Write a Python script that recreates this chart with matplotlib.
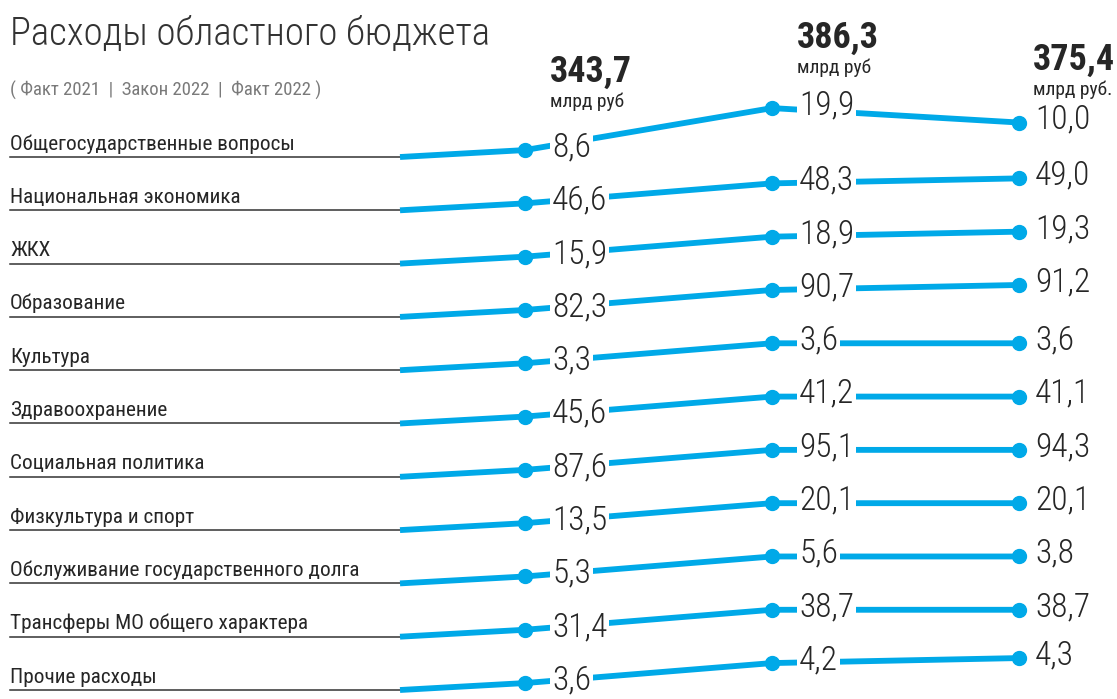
import numpy as np
import matplotlib.pyplot as plt
from matplotlib import font_manager as fm

# data
categories = ['Общегосударственные вопросы', 'Национальная экономика', 'ЖКХ',
              'Образование', 'Культура', 'Здравоохранение', 'Социальная политика',
              'Физкультура и спорт', 'Обслуживание государственного долга',
              'Трансферы МО общего характера', 'Прочие расходы']
fact_2021 = [8.6, 46.6, 15.9, 82.3, 3.3, 45.6, 87.6, 13.5, 5.3, 31.4, 3.6]
law_2022 = [19.9, 48.3, 18.9, 90.7, 3.6, 41.2, 95.1, 20.1, 5.6, 38.7, 4.2]
fact_2022 = [10.0, 49.0, 19.3, 91.2, 3.6, 41.1, 94.3, 20.1, 3.8, 38.7, 4.3]
totals = [343.7, 386.3, 375.4]
units = ['млрд руб', 'млрд руб', 'млрд руб.']


# pick a narrow font if one is installed
def pick_font():
    fl = fm.fontManager.ttflist
    for want in ['Liberation Sans Narrow', 'Roboto Condensed', 'Open Sans Condensed',
                 'Noto Sans Condensed', 'DejaVu Sans Condensed', 'Arial Narrow']:
        if any(f.name == want for f in fl):
            return want, 'normal', True
    for fam in ['Roboto', 'Noto Sans', 'Open Sans', 'DejaVu Sans']:
        if any(f.name == fam and str(f.stretch) in ('condensed', 'semi-condensed',
                                                    'extra-condensed') for f in fl):
            return fam, 'condensed', True
    return 'DejaVu Sans', 'normal', False


family, stretch, narrow = pick_font()
plt.rcParams['font.family'] = [family, 'DejaVu Sans']
plt.rcParams['font.stretch'] = stretch
k = 1.0 if narrow else 0.8   # shrink text when no narrow face exists

# style / layout
blue = '#00a9e8'
dark = '#262626'
header_y = [-1.407, -2.045, -1.632]   # baseline of total, in row units
unit_gap = 0.47
first_lift = 0.13
mid_step = 0.375
end_step = 0.094
emph = 0.94

def fmt(v):
    return f'{v:.1f}'.replace('.', ',')

fig = plt.figure(figsize=(11.17, 6.99), dpi=100)
ax = fig.add_axes([0, 0, 1, 1])
ax.set_xlim(-2.1255, 2.3968)
ax.set_ylim(10.169, -2.9456)
ax.axis('off')

x_text = -2.085
x_start = -0.506
label_dx = [0.11, 0.11, 0.065]

ax.text(x_text, -2.101, 'Расходы областного бюджета', fontsize=28 * k,
        fontweight='light', color='#333333', va='baseline', ha='left')
ax.text(x_text, -1.144, '( Факт 2021  |  Закон 2022  |  Факт 2022 )', fontsize=13.5 * k,
        color='#7a7a7a', va='baseline', ha='left')

for j in range(3):
    ax.text(j + label_dx[j] - 0.01, header_y[j], fmt(totals[j]), fontsize=26 * k,
            fontweight='bold', color=dark, va='baseline', ha='left')
    ax.text(j + label_dx[j] - 0.01, header_y[j] + unit_gap, units[j], fontsize=14 * k,
            color=dark, va='baseline', ha='left')

for i, name in enumerate(categories):
    v0, v1, v2 = fact_2021[i], law_2022[i], fact_2022[i]
    y0 = i - first_lift
    y1 = y0 - mid_step - emph * max(np.log(v1 / v0) - 0.4, 0)
    y2 = y1 - (end_step if v2 > v1 else 0) + emph * max(np.log(v1 / v2) - 0.4, 0)
    ys = [y0, y1, y2]

    ax.plot([x_text, x_start], [i, i], color='#333333', lw=1.1, zorder=1)
    ax.text(x_text, i - 0.14, name, fontsize=15.3 * k, color=dark, va='baseline', ha='left')
    ax.plot([x_start, 0, 1, 2], [i] + ys, color=blue, lw=4.2,
            solid_capstyle='butt', zorder=2)
    ax.plot([0, 1, 2], ys, 'o', ms=10, color=blue, zorder=3)
    for j, v in enumerate([v0, v1, v2]):
        ax.text(j + label_dx[j], ys[j] - 0.05, fmt(v), fontsize=24 * k, color=dark,
                fontweight='light', va='center', ha='left', zorder=4,
                bbox=dict(facecolor='white', edgecolor='none', pad=1.5))

fig.savefig('out.png', dpi=100)
